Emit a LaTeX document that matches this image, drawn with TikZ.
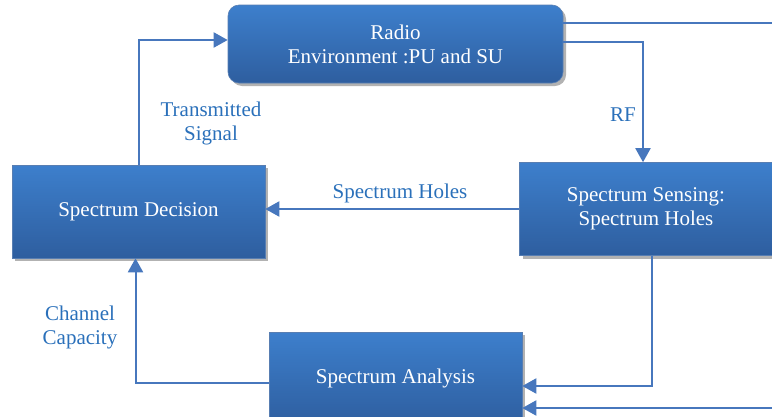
\documentclass[tikz,border=0pt]{standalone}
\usepackage{fontspec}
\setmainfont{Liberation Serif}
\usetikzlibrary{arrows.meta,shadows,calc}
\definecolor{boxtop}{HTML}{3D7FCC}
\definecolor{boxbot}{HTML}{2E5E9F}
\definecolor{linec}{HTML}{4777BD}
\definecolor{labc}{HTML}{2A70BA}
\tikzset{
  blk/.style={shade, top color=boxtop, bottom color=boxbot, draw=boxbot!80!white, line width=0.6pt,
    text=white, align=center, font=\fontsize{21}{24}\selectfont,
    minimum width=253pt, minimum height=93pt, inner sep=0pt,
    drop shadow={opacity=0.3, shadow xshift=3pt, shadow yshift=-3pt, fill=black}},
  conn/.style={draw=linec, line width=2pt, -{Triangle[length=14pt,width=15pt]}},
  line/.style={draw=linec, line width=2pt},
  lab/.style={text=labc, align=center, font=\fontsize{21}{24}\selectfont, inner sep=0pt}
}
\begin{document}
\begin{tikzpicture}[x=1pt,y=-1pt]
\useasboundingbox (0,0) rectangle (772,416);
\clip (0,0) rectangle (772,416);
\node[blk, rounded corners=11pt, minimum width=335pt, minimum height=78pt] (radio) at (395.5,44) {Radio\\Environment :PU and SU};
\node[blk] (sens) at (646,209) {Spectrum Sensing:\\Spectrum Holes};
\node[blk] (dec) at (138.5,211.5) {Spectrum Decision};
\node[blk] (ana) at (395.5,378.5) {Spectrum Analysis};
\coordinate (outtop) at (775,23);
\coordinate (outbot) at (775,408);
% connectors
\draw[conn] (dec.north) |- ([yshift=4pt]radio.west);
\draw[line] ([yshift=21pt]radio.east) -- (outtop);
\draw[conn] ([yshift=2pt]radio.east) -| ([xshift=-3pt]sens.north);
\draw[conn] (sens.west) -- (dec.east |- sens.west);
\draw[conn] ([xshift=6pt]sens.south) |- ([yshift=-7.5pt]ana.east);
\draw[conn] (outbot) -- (ana.east |- outbot);
\draw[conn] ([yshift=-4.5pt]ana.west) -| ([xshift=-3pt]dec.south);
% labels
\node[lab] (lts) at (211,123) {Transmitted\\Signal};
\node[lab] (lrf) at (623,115) {RF};
\node[lab] (lsh) at (400,193) {Spectrum Holes};
\node[lab] (lcc) at (80,327.5) {Channel\\Capacity};
\end{tikzpicture}
\end{document}
